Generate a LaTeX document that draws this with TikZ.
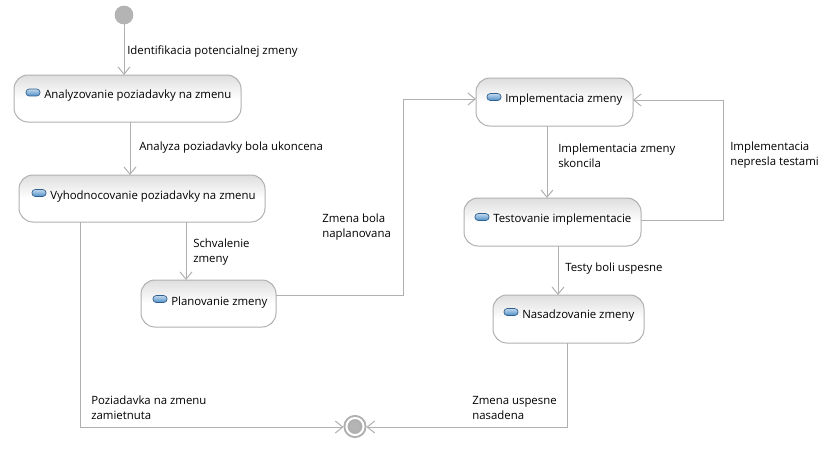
\documentclass[tikz,border=0pt]{standalone}
\usepackage{fontspec}
\setmainfont{Open Sans}
\usetikzlibrary{arrows.meta}
\definecolor{linegray}{HTML}{B0B0B0}
\definecolor{dotgray}{HTML}{B4B4B4}
\definecolor{topgray}{HTML}{DEDEDE}
\definecolor{iconblue}{HTML}{4F8FC8}
\definecolor{iconedge}{HTML}{2F5F8F}
\tikzset{
  statebox/.style={draw=linegray, line width=0.75pt, rounded corners=10.5pt, inner sep=0pt, outer sep=0pt,
    top color=topgray, bottom color=white, middle color=white},
  stateicon/.style={draw=iconedge, line width=0.5pt, rounded corners=2.4pt, inner sep=0pt,
    minimum width=10.5pt, minimum height=5.2pt, top color=iconblue!35, bottom color=iconblue},
  txt/.style={anchor=west, inner sep=0pt, font=\fontsize{8.55}{11.25}\selectfont, align=left},
  conn/.style={draw=linegray, line width=0.75pt, -{Straight Barb[length=5.5pt, width=9pt, line width=0.75pt]}},
  startdot/.style={circle, fill=dotgray, draw=linegray, line width=0.5pt, minimum size=13.5pt, inner sep=0pt, outer sep=0pt},
  enddot/.style={circle, fill=dotgray, draw=linegray, double=white, double distance=1.5pt, line width=1.5pt, minimum size=12.8pt, inner sep=0pt, outer sep=2.25pt}
}
\begin{document}
\begin{tikzpicture}[x=0.75pt,y=0.75pt,yscale=-1,xscale=1]
\useasboundingbox (0,0) rectangle (833,451);

%Start and end
\node [startdot] (start) at (124,15) {};
\node [enddot] (finish) at (355,426.5) {};

%State boxes
\node [statebox, minimum width=170.25pt, minimum height=35.25pt] (analyz) at (127.5,98.5) {};
\node [statebox, minimum width=184.5pt, minimum height=35.25pt] (vyhod) at (142,198.5) {};
\node [statebox, minimum width=101.25pt, minimum height=35.25pt] (plan) at (208.5,303.5) {};
\node [statebox, minimum width=117.75pt, minimum height=36pt] (impl) at (554.5,102) {};
\node [statebox, minimum width=132.75pt, minimum height=36pt] (test) at (552.5,222) {};
\node [statebox, minimum width=113.25pt, minimum height=36pt] (nasad) at (568.5,319) {};

%Icons
\node [stateicon] (analyzIcon) at (33,92.5) {};
\node [stateicon] (vyhodIcon) at (39,193) {};
\node [stateicon] (planIcon) at (160,299) {};
\node [stateicon] (implIcon) at (494,97) {};
\node [stateicon] (testIcon) at (482,217) {};
\node [stateicon] (nasadIcon) at (511,312) {};

%State names
\node [txt] (analyzName) at (44,96) {Analyzovanie poziadavky na zmenu};
\node [txt] (vyhodName) at (50,196.5) {Vyhodnocovanie poziadavky na zmenu};
\node [txt] (planName) at (171,302.5) {Planovanie zmeny};
\node [txt] (implName) at (505,100) {Implementacia zmeny};
\node [txt] (testName) at (493,220) {Testovanie implementacie};
\node [txt] (nasadName) at (522,315.5) {Nasadzovanie zmeny};

%Bends
\coordinate (planBendA) at (403,295);
\coordinate (planBendB) at (403,99);
\coordinate (testBendA) at (723,220);
\coordinate (testBendB) at (723,100);
\coordinate (vyhodBend) at (80,427);
\coordinate (nasadBend) at (567,427);

%Connectors
\draw [conn] (start) -- (124,0 |- analyz.north);
\draw [conn] (130,0 |- analyz.south) -- (130,0 |- vyhod.north);
\draw [conn] (186,0 |- vyhod.south) -- (186,0 |- plan.north);
\draw [conn] (plan.east |- planBendA) -- (planBendA) -- (planBendB) -- (impl.west |- planBendB);
\draw [conn] (547,0 |- impl.south) -- (547,0 |- test.north);
\draw [conn] (test.east |- testBendA) -- (testBendA) -- (testBendB) -- (impl.east |- testBendB);
\draw [conn] (558,0 |- test.south) -- (558,0 |- nasad.north);
\draw [conn] (80,0 |- vyhod.south) -- (vyhodBend) -- (finish.west |- vyhodBend);
\draw [conn] (567,0 |- nasad.south) -- (nasadBend) -- (finish.east |- nasadBend);

%Connector labels
\node [txt] (startLabel) at (127,52) {Identifikacia potencialnej zmeny};
\node [txt] (analyzLabel) at (139,148) {Analyza poziadavky bola ukoncena};
\node [txt] (schvalLabel) at (193,252) {Schvalenie\\zmeny};
\node [txt] (planLabel) at (322,227.5) {Zmena bola\\naplanovana};
\node [txt] (implLabel) at (558,156) {Implementacia zmeny\\skoncila};
\node [txt] (nepreslaLabel) at (730,155.5) {Implementacia\\nepresla testami};
\node [txt] (testyLabel) at (565,268.5) {Testy boli uspesne};
\node [txt] (nasadLabel) at (472,408) {Zmena uspesne\\nasadena};
\node [txt] (zamietLabel) at (91,407.5) {Poziadavka na zmenu\\zamietnuta};

\end{tikzpicture}
\end{document}
